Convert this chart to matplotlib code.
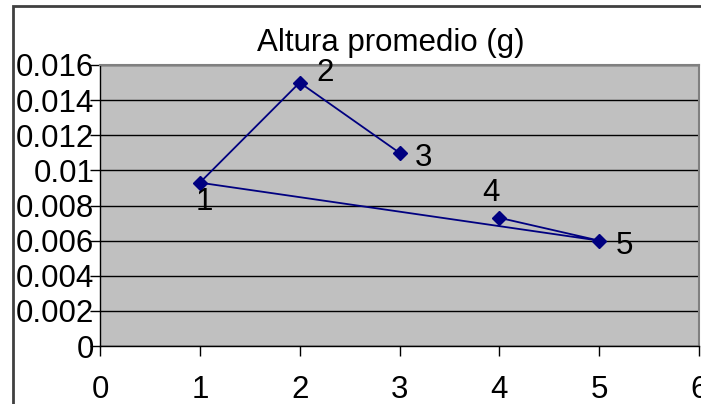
import matplotlib
matplotlib.use("Agg")
import matplotlib.pyplot as plt
from matplotlib.patches import Rectangle

plt.rcParams["font.family"] = ["Liberation Sans", "DejaVu Sans"]

# puntos en el orden en que se unen
muestra = [3, 2, 1, 5, 4]
altura = [0.011, 0.015, 0.0093, 0.006, 0.0073]
# desplazamiento de cada etiqueta (puntos)
etiqueta_offset = {1: (3, -14), 2: (18, 7), 3: (17, -4), 4: (-6, 18), 5: (18, -4)}

y_ticks = [0, 0.002, 0.004, 0.006, 0.008, 0.01, 0.012, 0.014, 0.016]
x_ticks = [0, 1, 2, 3, 4, 5, 6]

fig = plt.figure(figsize=(7.01, 4.04), dpi=100)
fig.patch.set_facecolor("white")

# marco exterior del grafico
fig.patches.append(Rectangle((13 / 701, -0.1), 1.2, (404 - 6) / 404 + 0.1,
                             transform=fig.transFigure, fill=False,
                             edgecolor="#404040", linewidth=2))

ax = fig.add_axes([100 / 701, 58 / 404, 599 / 701, 281 / 404])
ax.set_facecolor("#C0C0C0")
ax.set_xlim(0, 6)
ax.set_ylim(0, 0.016)
ax.set_yticks(y_ticks)
ax.set_yticklabels([f"{v:g}" for v in y_ticks])
ax.set_xticks(x_ticks)
ax.set_xticklabels([str(v) for v in x_ticks])
ax.tick_params(axis="both", labelsize=22.5, direction="out", length=7,
               width=1, color="black")
ax.tick_params(axis="x", pad=14)
ax.tick_params(axis="y", pad=-3)

for spine in ["left", "bottom"]:
    ax.spines[spine].set_color("black")
    ax.spines[spine].set_linewidth(1)
for spine in ["top", "right"]:
    ax.spines[spine].set_color("#808080")
    ax.spines[spine].set_linewidth(1.5)

ax.yaxis.grid(True, color="black", linewidth=1)
ax.set_axisbelow(True)

ax.plot(muestra, altura, color="#000080", linewidth=1.3, marker="D",
        markersize=7, markerfacecolor="#000080", markeredgecolor="#000080",
        clip_on=False, zorder=3)

for x, y in zip(muestra, altura):
    ax.annotate(str(x), (x, y), xytext=etiqueta_offset[x],
                textcoords="offset points", ha="center", va="center",
                fontsize=22.5, color="black")

fig.text(391 / 701, 1 - 43 / 404, "Altura promedio (g)", ha="center",
         va="center", fontsize=22.5, color="black")

fig.savefig("out.png", dpi=100)
